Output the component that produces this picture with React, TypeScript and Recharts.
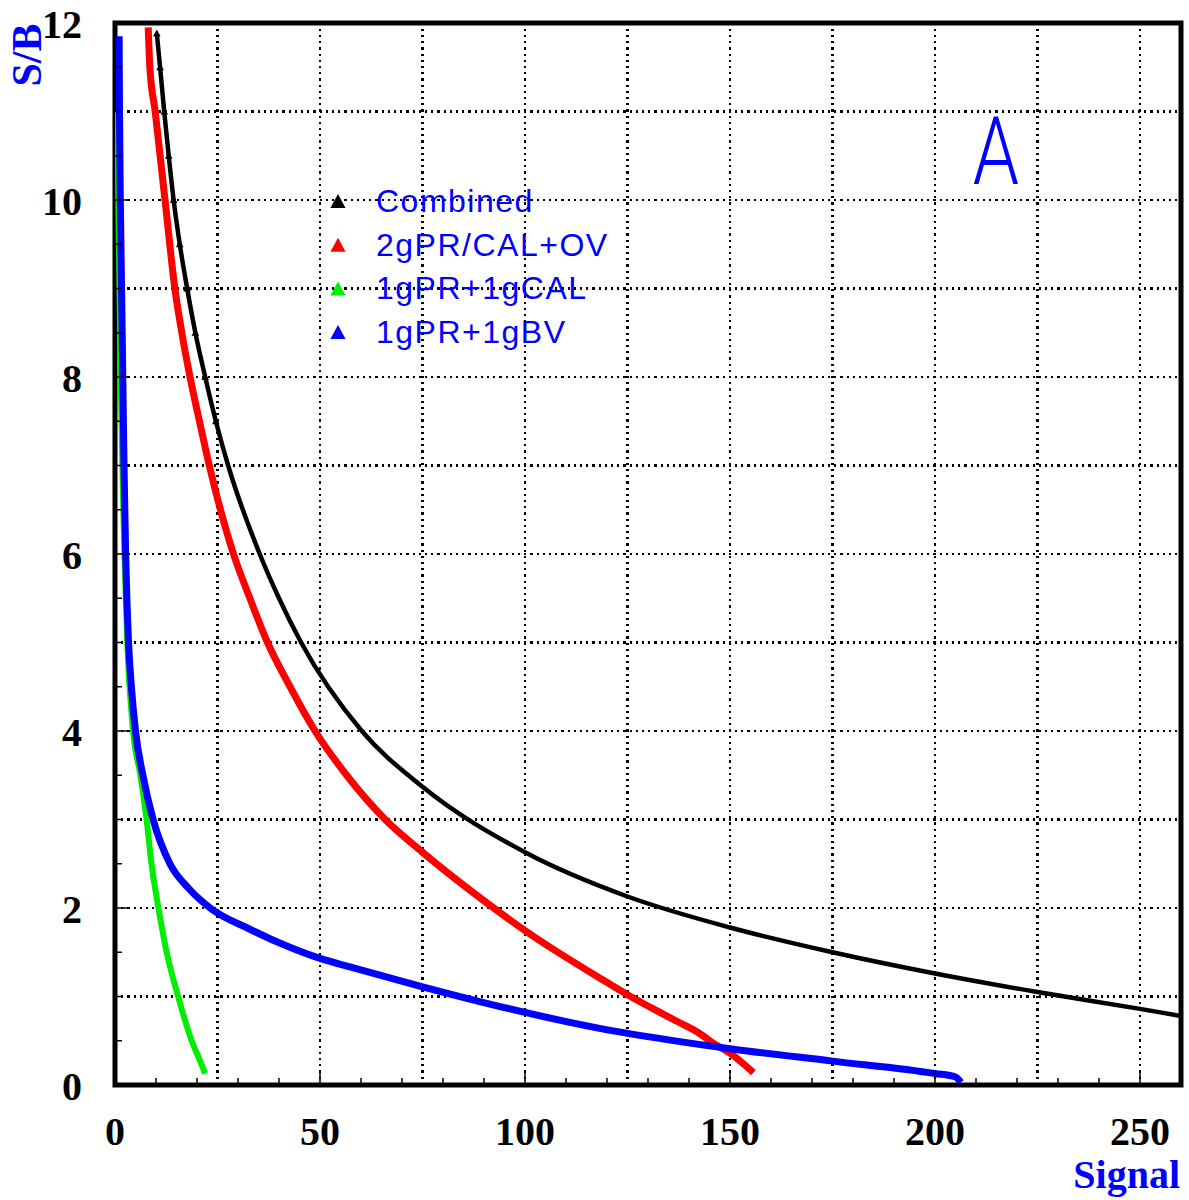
import { LineChart, Line, XAxis, YAxis, ReferenceLine, ReferenceArea } from 'recharts';

// values (Signal on x, S/B on y)
const COMBINED_SIGNAL = [10.2, 11.0, 12.0, 13.1, 14.3, 15.8, 17.6, 19.6, 22.0, 24.6, 27.6, 35.3, 40.0, 45.4, 60.2, 75, 100, 125, 150, 175, 200, 225, 250, 260];
const COMBINED_SB = [11.88, 11.5, 11.0, 10.5, 10.0, 9.5, 9.0, 8.5, 8.0, 7.5, 7.0, 6.0, 5.5, 5.0, 4.0, 3.37, 2.63, 2.13, 1.78, 1.5, 1.26, 1.05, 0.86, 0.78];

const TWOG_SIGNAL = [8.1, 8.5, 9.8, 11.0, 12.2, 14.6, 16.3, 18.3, 20.6, 23.0, 28.9, 32.9, 37.2, 42.7, 48.8, 56.5, 65.9, 75, 91.5, 100, 107.7, 118.2, 125, 130.5, 137, 142.3, 146, 150, 153, 155.7];
const TWOG_SB = [11.95, 11.5, 11.0, 10.5, 10.0, 9.0, 8.5, 8.0, 7.5, 7.0, 6.0, 5.5, 5.0, 4.5, 4.0, 3.5, 3.0, 2.63, 2.03, 1.745, 1.51, 1.21, 1.02, 0.88, 0.72, 0.59, 0.47, 0.36, 0.25, 0.14];

const CAL_SIGNAL = [0.6, 0.8, 1.1, 1.4, 1.8, 2.3, 3.0, 4.4, 6.2, 7.7, 8.9, 10.6, 12.6, 15.4, 18.7, 20.5, 22.0];
const CAL_SB = [11.0, 10.0, 9.0, 8.0, 7.0, 6.0, 5.0, 4.0, 3.5, 3.0, 2.5, 2.0, 1.5, 1.0, 0.5, 0.3, 0.13];

const BV_SIGNAL = [1.0, 1.1, 1.3, 1.6, 1.9, 2.2, 2.6, 3.3, 4.0, 5.0, 6.8, 9.3, 13.4, 18.0, 23.2, 32.9, 41.9, 50, 57.3, 75, 85.8, 100, 118.2, 135, 150, 175, 200, 205, 206.3];
const BV_SB = [11.85, 11.0, 10.0, 9.0, 8.0, 7.0, 6.0, 5.0, 4.5, 4.0, 3.5, 3.0, 2.5, 2.22, 2.0, 1.76, 1.57, 1.43, 1.335, 1.11, 0.98, 0.82, 0.64, 0.51, 0.41, 0.27, 0.13, 0.09, 0.03];

const X_TICKS = [0, 10, 20, 30, 40, 50, 60, 70, 80, 90, 100, 110, 120, 130, 140, 150, 160, 170, 180, 190, 200, 210, 220, 230, 240, 250, 260];
const Y_TICKS = [0, 0.5, 1, 1.5, 2, 2.5, 3, 3.5, 4, 4.5, 5, 5.5, 6, 6.5, 7, 7.5, 8, 8.5, 9, 9.5, 10, 10.5, 11, 11.5, 12];
const X_GRID = [25, 50, 75, 100, 125, 150, 175, 200, 225, 250];
const Y_GRID = [1, 2, 3, 4, 5, 6, 7, 8, 9, 10, 11];

const toPoints = (xs: number[], ys: number[]) => xs.map((x, i) => ({ x, y: ys[i] }));

const SERIES = [
  { name: 'Combined', color: '#000000', width: 4.5, points: toPoints(COMBINED_SIGNAL, COMBINED_SB) },
  { name: '2gPR/CAL+OV', color: '#ff0000', width: 7, points: toPoints(TWOG_SIGNAL, TWOG_SB) },
  { name: '1gPR+1gCAL', color: '#00ee00', width: 6, points: toPoints(CAL_SIGNAL, CAL_SB) },
  { name: '1gPR+1gBV', color: '#0000ff', width: 7, points: toPoints(BV_SIGNAL, BV_SB) },
];

const SERIF = '"Liberation Serif", "Times New Roman", serif';
const SANS = '"Liberation Sans", Arial, sans-serif';

const tri = (cx: number, cy: number, r: number) =>
  `M${cx},${cy - r} L${cx + r * 0.95},${cy + r * 0.75} L${cx - r * 0.95},${cy + r * 0.75} Z`;

function renderXTick({ x, y, payload }: any) {
  const v = payload.value;
  const major = v % 50 === 0;
  return (
    <g>
      <line x1={x} x2={x} y1={y} y2={y - (major ? 14 : 7)} stroke="#000" strokeWidth={1.5} />
      {major && (
        <text x={x} y={y + 60} textAnchor="middle" fontFamily={SERIF} fontWeight="bold" fontSize={40} fill="#000">
          {v}
        </text>
      )}
    </g>
  );
}

function renderYTick({ x, y, payload }: any) {
  const v = payload.value;
  const major = v % 2 === 0;
  return (
    <g>
      <line x1={x} x2={x + (major ? 14 : 7)} y1={y} y2={y} stroke="#000" strokeWidth={1.5} />
      {major && (
        <text x={x - 33} y={y + 15} textAnchor="end" fontFamily={SERIF} fontWeight="bold" fontSize={40} fill="#000">
          {v}
        </text>
      )}
    </g>
  );
}

function sparseDot({ cx, cy, payload }: any) {
  if (payload.y < 7.5) return <g />;
  return <path d={tri(cx, cy, 4)} fill="#000" />;
}

export default function App() {
  return (
    <div style={{ position: 'absolute', left: 0, top: 0, width: 1189, height: 1200, background: '#fff' }}>
      <LineChart width={1189} height={1200} margin={{ top: 23, right: 8, bottom: 0, left: 0 }}>
        <XAxis
          dataKey="x"
          type="number"
          domain={[0, 260]}
          ticks={X_TICKS}
          interval={0}
          allowDataOverflow
          height={115}
          axisLine={false}
          tickLine={false}
          tickSize={0}
          tickMargin={0}
          tick={renderXTick}
        />
        <YAxis
          dataKey="y"
          type="number"
          domain={[0, 12]}
          ticks={Y_TICKS}
          interval={0}
          allowDataOverflow
          width={115}
          axisLine={false}
          tickLine={false}
          tickSize={0}
          tickMargin={0}
          tick={renderYTick}
        />
        {X_GRID.map((v) => (
          <ReferenceLine key={'gx' + v} x={v} stroke="#000" strokeWidth={2.2} strokeDasharray="2.2 4" shapeRendering="crispEdges" />
        ))}
        {Y_GRID.map((v) => (
          <ReferenceLine key={'gy' + v} y={v} stroke="#000" strokeWidth={2.2} strokeDasharray="2.2 4" shapeRendering="crispEdges" />
        ))}
        {SERIES.map((s) => (
          <Line
            key={s.name}
            name={s.name}
            data={s.points}
            dataKey="y"
            type="monotone"
            stroke={s.color}
            strokeWidth={s.width}
            dot={s.name === 'Combined' ? sparseDot : false}
            activeDot={false}
            isAnimationActive={false}
          />
        ))}
        <ReferenceArea x1={0} x2={260} y1={0} y2={12} fill="none" stroke="#000" strokeWidth={5} ifOverflow="visible" />
      </LineChart>
      <svg width={1189} height={1200} style={{ position: 'absolute', left: 0, top: 0, pointerEvents: 'none' }}>
        {SERIES.map((s, i) => (
          <g key={s.name}>
            <path d={tri(338, 202 + 43.7 * i, 8)} fill={s.color} />
            <text x={376} y={212 + 43.7 * i} fontFamily={SANS} fontSize={32} letterSpacing={1.5} fill="#0000ff">
              {s.name}
            </text>
          </g>
        ))}
        <text
          transform="rotate(-90, 41, 55)"
          x={41}
          y={55}
          textAnchor="middle"
          fontFamily={SERIF}
          fontWeight="bold"
          fontSize={42}
          fill="#0000ff"
        >
          S/B
        </text>
        <text x={1180} y={1188} textAnchor="end" fontFamily={SERIF} fontWeight="bold" fontSize={40} fill="#0000ff">
          Signal
        </text>
        <text
          transform="translate(996, 184) scale(0.78, 1)"
          textAnchor="middle"
          fontFamily='Roboto, "Liberation Sans", sans-serif'
          fontWeight={300}
          fontSize={95}
          fill="#0000ff"
        >
          A
        </text>
      </svg>
    </div>
  );
}
